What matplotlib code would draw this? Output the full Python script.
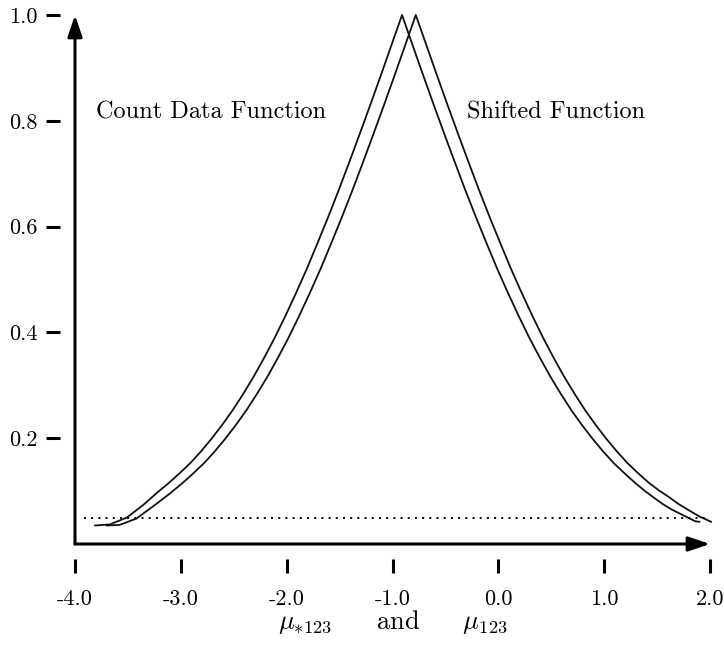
import matplotlib
matplotlib.use('Agg')
import matplotlib.pyplot as plt

# values
count_x = [-3.81, -3.67, -3.51, -3.36, -3.23, -3.11, -3.01, -2.91, -2.81, -2.71, -2.61, -2.51, -2.41, -2.31,
           -2.21, -2.11, -2.01, -1.91, -1.81, -1.71, -1.61, -1.51, -1.41, -1.31, -1.21, -1.11, -1.01, -0.91,
           -0.81, -0.71, -0.61, -0.51, -0.41, -0.31, -0.21, -0.11, -0.01, 0.09, 0.19, 0.29, 0.39, 0.49,
           0.59, 0.69, 0.79, 0.89, 0.99, 1.09, 1.19, 1.29, 1.38, 1.46, 1.55, 1.64, 1.77, 1.86, 1.90]
count_y = [0.035, 0.037, 0.050, 0.073, 0.096, 0.116, 0.134, 0.153, 0.175, 0.199, 0.225, 0.253, 0.284, 0.317,
           0.353, 0.391, 0.432, 0.475, 0.520, 0.568, 0.617, 0.668, 0.721, 0.775, 0.830, 0.886, 0.943, 1.000,
           0.943, 0.886, 0.830, 0.775, 0.721, 0.668, 0.617, 0.568, 0.520, 0.475, 0.432, 0.391, 0.353, 0.317,
           0.284, 0.253, 0.225, 0.199, 0.175, 0.153, 0.134, 0.116, 0.101, 0.089, 0.076, 0.065, 0.052, 0.043, 0.042]

shift_x = [-3.70, -3.58, -3.42, -3.25, -3.10, -2.98, -2.88, -2.78, -2.68, -2.58, -2.48, -2.38, -2.28, -2.18,
           -2.08, -1.98, -1.88, -1.78, -1.68, -1.58, -1.48, -1.38, -1.28, -1.18, -1.08, -0.98, -0.88, -0.78,
           -0.68, -0.58, -0.48, -0.38, -0.28, -0.18, -0.08, 0.02, 0.12, 0.22, 0.32, 0.42, 0.52, 0.62,
           0.72, 0.82, 0.92, 1.02, 1.12, 1.22, 1.32, 1.42, 1.52, 1.61, 1.70, 1.79, 1.90, 2.01]
shift_y = [0.035, 0.036, 0.048, 0.073, 0.096, 0.116, 0.134, 0.153, 0.175, 0.199, 0.225, 0.253, 0.284, 0.317,
           0.353, 0.391, 0.432, 0.475, 0.520, 0.568, 0.617, 0.668, 0.721, 0.775, 0.830, 0.886, 0.943, 1.000,
           0.943, 0.886, 0.830, 0.775, 0.721, 0.668, 0.617, 0.568, 0.520, 0.475, 0.432, 0.391, 0.353, 0.317,
           0.284, 0.253, 0.225, 0.199, 0.175, 0.153, 0.134, 0.116, 0.101, 0.089, 0.076, 0.065, 0.052, 0.042]

ref_level = 0.05
ref_start, ref_end = -3.915, 2.0

xticks = [-4.0, -3.0, -2.0, -1.0, 0.0, 1.0, 2.0]
xtick_labels = ['-4.0', '-3.0', '-2.0', '-1.0', '0.0', '1.0', '2.0']
yticks = [0.2, 0.4, 0.6, 0.8, 1.0]
ytick_labels = ['0.2', '0.4', '0.6', '0.8', '1.0']

plt.rcParams['font.family'] = 'cmr10'
plt.rcParams['mathtext.fontset'] = 'cm'
plt.rcParams['axes.formatter.use_mathtext'] = True

fig = plt.figure(figsize=(7.24, 6.5), dpi=100)
ax = fig.add_axes([75/724, 106/650, 635/724, 529/650])
ax.set_xlim(-4.0, 2.0)
ax.set_ylim(0.0, 1.0)

ax.plot(count_x, count_y, color='#111111', lw=1.3, clip_on=False)
ax.plot(shift_x, shift_y, color='#111111', lw=1.3, clip_on=False)
ax.plot([ref_start, ref_end], [ref_level, ref_level], color='black', lw=1.4,
        linestyle=(0, (1, 2.7)), clip_on=False)

# axes drawn as arrows, ticks detached from them
for s in ax.spines.values():
    s.set_visible(False)
ax.spines['left'].set_position(('outward', 11))
ax.spines['bottom'].set_position(('outward', 11))
arrow = dict(arrowstyle='-|>,head_length=0.65,head_width=0.22', lw=2.2, color='black',
             shrinkA=0, shrinkB=0, mutation_scale=20)
ax.annotate('', xy=(2.0, 0.0), xytext=(-4.0, 0.0), arrowprops=arrow, annotation_clip=False)
ax.annotate('', xy=(-4.0, 1.0), xytext=(-4.0, 0.0), arrowprops=arrow, annotation_clip=False)

ax.set_xticks(xticks)
ax.set_xticklabels(xtick_labels)
ax.set_yticks(yticks)
ax.set_yticklabels(ytick_labels)
ax.tick_params(axis='both', direction='out', length=10, width=2.2, labelsize=16)
ax.tick_params(axis='x', pad=12)
ax.tick_params(axis='y', pad=6)

ax.text(-3.80, 0.815, 'Count Data Function', fontsize=17.5, va='center', ha='left')
ax.text(-0.30, 0.815, 'Shifted Function', fontsize=17.5, va='center', ha='left')
ax.set_xlabel(r'$\mu_{*123}$     and     $\mu_{123}$', fontsize=19, labelpad=-1)

fig.savefig('out.png', dpi=100)
